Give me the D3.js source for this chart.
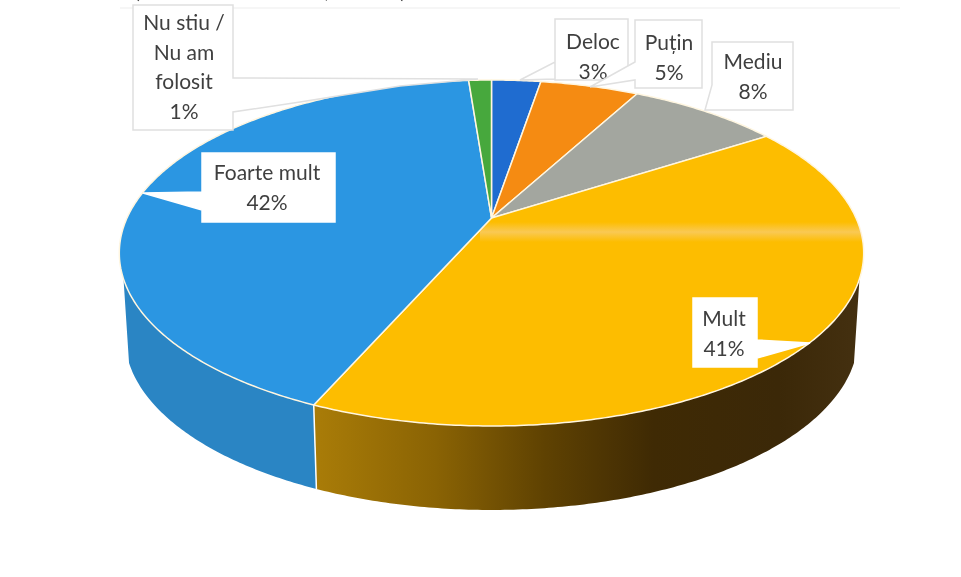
<!DOCTYPE html>
<html lang="en">
<meta charset="utf-8" />
<script src="https://d3js.org/d3.v7.min.js"></script>
<style>
  html, body { margin: 0; background: #fff; }
  svg { display: block; filter: blur(0.45px); }
  text { font-family: Lato, "Open Sans", sans-serif; font-size: 21px; fill: #3f3f3f; text-anchor: middle; }
</style>
<body>
<svg width="961" height="577"></svg>
<script>
// data, clockwise from 12 o'clock
var categories = ["Deloc", "Puțin", "Mediu", "Mult", "Foarte mult", "Nu stiu / Nu am folosit"];
var shares = [2.6, 5.2, 8, 40.7, 42.3, 1.2];
var percents = ["3%", "5%", "8%", "41%", "42%", "1%"];
var topColors = ["#1f6cd0", "#f58b12", "#a3a69f", "#fdbd00", "#2b96e2", "#47a83d"];

// perspective of the disk
var cx = 491.5, cy = 218, persp = 0.2023, rx = 364.5, ry = 165.9;
var depth = 84, bottomScale = 0.985;

function project(angle, rim) {
  var u = Math.sin(angle) * rim, v = -Math.cos(angle) * rim;
  var w = 1 - persp * v;
  return [cx + rx * u / w, cy + ry * v / w];
}
function projectBottom(angle) {
  var p = project(angle, 1);
  return [cx + (p[0] - cx) * bottomScale, p[1] + depth];
}

var svg = d3.select("svg");
var line = d3.line();
var arcs = d3.pie().sort(null).value(function(d) { return d; })(shares);

function arcPoints(a0, a1, fn) {
  var n = Math.max(2, Math.ceil(Math.abs(a1 - a0) / 0.01));
  return d3.range(n + 1).map(function(i) { return fn(a0 + (a1 - a0) * i / n); });
}
function rimPoint(a) { return project(a, 1); }

// faint frame line at the top of the scan + the cut off title
svg.append("line").attr("x1", 120).attr("x2", 900).attr("y1", 8).attr("y2", 8)
  .attr("stroke", "#f6f6f6").attr("stroke-width", 2);
svg.selectAll(".cut").data([["(", 137], [",", 327], [")", 403]]).enter().append("text")
  .attr("x", function(d) { return d[1]; }).attr("y", -2).text(function(d) { return d[0]; });

// side wall
var defs = svg.append("defs");
var grad = defs.append("linearGradient").attr("id", "wallGold")
  .attr("gradientUnits", "userSpaceOnUse").attr("x1", 316).attr("x2", 860).attr("y1", 0).attr("y2", 0);
[[0, "#a97c08"], [0.22, "#8a6304"], [0.42, "#5f4202"], [0.62, "#3f2a04"], [0.85, "#3b2808"], [1, "#443010"]]
  .forEach(function(s) { grad.append("stop").attr("offset", s[0]).attr("stop-color", s[1]); });

var wallFrom = 110 * Math.PI / 180, wallTo = 250 * Math.PI / 180;
var wallFills = { 3: "url(#wallGold)", 4: "#2a85c4" };
[3, 4].forEach(function(i) {
  var a0 = Math.max(arcs[i].startAngle, wallFrom), a1 = Math.min(arcs[i].endAngle, wallTo);
  var pts = arcPoints(a0, a1, rimPoint).concat(arcPoints(a1, a0, projectBottom));
  svg.append("path").attr("d", line(pts) + "Z").attr("fill", wallFills[i]);
});
// white edge between the two walls
var edgeAngle = arcs[3].endAngle;
svg.append("path").attr("d", line([rimPoint(edgeAngle), projectBottom(edgeAngle)]))
  .attr("stroke", "#fff").attr("stroke-width", 1.5).attr("fill", "none");

// top of the pie
function slicePath(d) {
  return line([[cx, cy]].concat(arcPoints(d.startAngle, d.endAngle, rimPoint))) + "Z";
}
svg.selectAll(".slice").data(arcs).enter().append("path")
  .attr("class", "slice")
  .attr("d", slicePath)
  .attr("fill", function(d, i) { return topColors[i]; })
  .attr("stroke", "#fff6e0").attr("stroke-width", 1.5).attr("stroke-linejoin", "round");

// scanner streak over the gold slice
defs.append("clipPath").attr("id", "goldClip").append("path").attr("d", slicePath(arcs[3]));
var streak = defs.append("linearGradient").attr("id", "streak").attr("x1", 0).attr("x2", 0).attr("y1", 0).attr("y2", 1);
[[0, 0], [0.5, 0.42], [1, 0]].forEach(function(s) {
  streak.append("stop").attr("offset", s[0]).attr("stop-color", "#f4d9c8").attr("stop-opacity", s[1]);
});
svg.append("rect").attr("x", 480).attr("y", 222).attr("width", 390).attr("height", 20)
  .attr("fill", "url(#streak)").attr("clip-path", "url(#goldClip)");

// callouts
var callouts = [
  { i: 0, d: "M555,19H628V80H555V62L520,80L555,79Z", border: true, x: 593, lines: ["Deloc", percents[0]], y: 49 },
  { i: 1, d: "M635,20H702V88H635V80L590,87L635,62Z", border: true, x: 669, lines: ["Puțin", percents[1]], y: 50 },
  { i: 2, d: "M712,42H793V110H712H705L712,85Z", border: true, x: 753, lines: ["Mediu", percents[2]], y: 69 },
  { i: 3, d: "M693,298H757V340L810,343L757,358V367H693Z", border: false, x: 724, lines: ["Mult", percents[3]], y: 326 },
  { i: 4, d: "M202,153H335V222H202V210L143,193L202,192Z", border: false, x: 267, lines: ["Foarte mult", percents[4]], y: 180 },
  { i: 5, d: "M133,5H233V78L478,79L400,86L300,102L233,112V130H133Z", border: true, x: 184, lines: ["Nu stiu /", "Nu am", "folosit", percents[5]], y: 30 }
];
var lineStep = 29.5;
var boxes = svg.selectAll(".callout").data(callouts).enter().append("g").attr("class", "callout");
boxes.append("path").attr("d", function(d) { return d.d; })
  .attr("fill", "#fff")
  .attr("stroke", function(d) { return d.border ? "#e0e0e0" : "#fff"; })
  .attr("stroke-width", 1.5);
boxes.each(function(d) {
  d3.select(this).selectAll("text").data(d.lines).enter().append("text")
    .attr("x", d.x)
    .attr("y", function(t, k) { return d.y + k * lineStep; })
    .text(function(t) { return t; });
});
</script>
</body>
</html>
